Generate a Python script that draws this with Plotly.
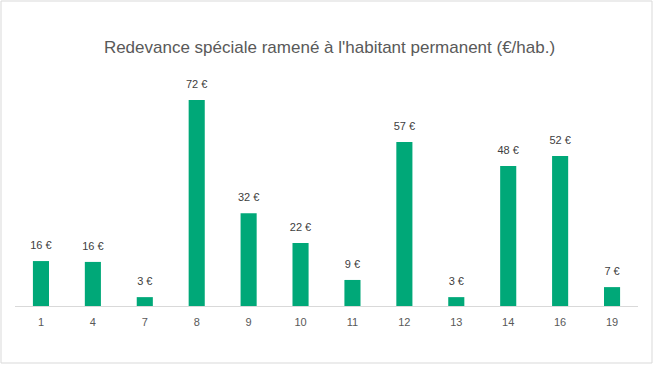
import plotly.graph_objects as go

categories = ["1", "4", "7", "8", "9", "10", "11", "12", "13", "14", "16", "19"]
values = [15.7, 15.4, 3.1, 72.0, 32.4, 22.0, 9.1, 57.3, 3.1, 48.9, 52.4, 6.6]
labels = ["16 €", "16 €", "3 €", "72 €", "32 €", "22 €", "9 €", "57 €", "3 €", "48 €", "52 €", "7 €"]
title = "Redevance spéciale ramené à l'habitant permanent (€/hab.)"

W, H = 659, 368
ml, mr, mt, mb = 15, 21, 77, 62
pw, ph = W - ml - mr, H - mt - mb

fig = go.Figure()
fig.add_trace(go.Bar(
    x=categories, y=values,
    marker=dict(color="#00A878", line=dict(width=0)),
    hoverinfo="skip",
))
fig.add_trace(go.Scatter(
    x=categories, y=values, text=labels, mode="markers+text", textposition="top center",
    marker=dict(size=13, color="rgba(0,0,0,0)"),
    textfont=dict(family="Liberation Sans, Arial, sans-serif", size=11, color="#404040"),
    cliponaxis=False, hoverinfo="skip",
))

fig.update_layout(
    width=W, height=H,
    margin=dict(l=ml, r=mr, t=mt, b=mb),
    paper_bgcolor="white", plot_bgcolor="white",
    bargap=0.69,
    showlegend=False,
    title=dict(text=title, x=0.5, xanchor="center", y=1 - 47 / H, yanchor="middle",
               font=dict(family="Liberation Sans, Arial, sans-serif", size=17, color="#595959")),
    xaxis=dict(type="category", range=[-0.5, len(categories) - 0.5], showgrid=False,
               showline=True, linecolor="#D9D9D9", linewidth=1,
               ticks="", tickfont=dict(family="Liberation Sans, Arial, sans-serif", size=11, color="#595959"),
               ticklabelstandoff=6),
    yaxis=dict(range=[0, 80], visible=False, showgrid=False, zeroline=False),
    shapes=[dict(type="rect", xref="paper", yref="paper",
                 x0=(1 - ml) / pw, x1=(652 - ml) / pw,
                 y0=(H - mb - 363) / ph, y1=(H - mb - 1) / ph,
                 line=dict(color="#D9D9D9", width=1), fillcolor="rgba(0,0,0,0)", layer="below")],
)

fig.write_html("out.html", config={"displayModeBar": False},
               post_script="document.body.style.margin='0';document.body.style.overflow='hidden';")
